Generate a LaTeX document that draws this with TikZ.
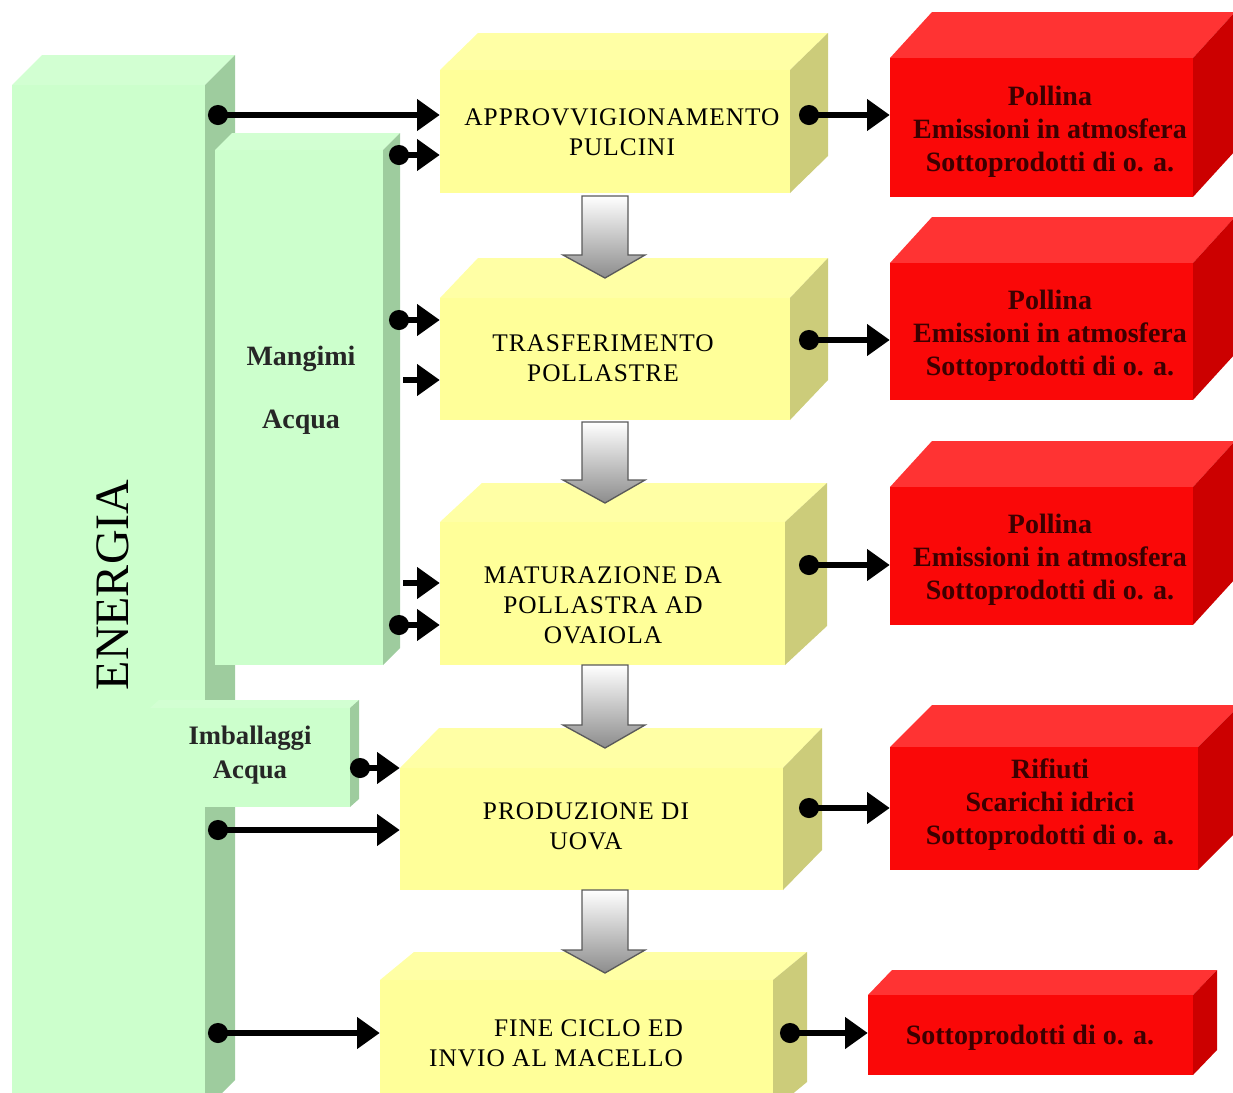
\documentclass[tikz,border=0pt]{standalone}
\usepackage{fontspec}
\setmainfont{Liberation Serif}
\newfontfamily\capsfont[LetterSpace=4]{Liberation Serif}
\usetikzlibrary{arrows.meta,calc}
\definecolor{gfront}{RGB}{204,255,204}
\definecolor{gtop}{RGB}{210,255,210}
\definecolor{gside}{RGB}{158,204,158}
\definecolor{yfront}{RGB}{255,255,153}
\definecolor{ytop}{RGB}{255,255,165}
\definecolor{yside}{RGB}{204,204,122}
\definecolor{rfront}{RGB}{250,8,8}
\definecolor{rtop}{RGB}{255,51,51}
\definecolor{rside}{RGB}{204,0,0}
\definecolor{rtext}{RGB}{60,0,0}
\definecolor{arrowedge}{RGB}{90,90,90}

% #1 name, #2 x1, #3 y1, #4 x2, #5 y2 (front face), #6 dx, #7 dy, #8 colour prefix
\newcommand\mycube[8]{%
  \fill[#8top] (#2,#3) -- ({#2+#6},{#3-#7}) -- ({#4+#6},{#3-#7}) -- (#4,#3) -- cycle;
  \fill[#8side] (#4,#3) -- ({#4+#6},{#3-#7}) -- ({#4+#6},{#5-#7}) -- (#4,#5) -- cycle;
  \node[fill=#8front, inner sep=0pt, minimum width={(#4-#2)*0.75pt},
        minimum height={(#5-#3)*0.75pt}] (#1) at ({(#2+#4)/2},{(#3+#5)/2}) {};
}
% fat grey arrow: #1 top y, #2 tip y
\newcommand\fatarrow[2]{%
  \shade[fat] (582,#1) -- (628,#1) -- (628,{#2-23}) -- (645,{#2-23}) -- (605,#2)
     -- (563,{#2-23}) -- (582,{#2-23}) -- cycle;
}

\begin{document}
\begin{tikzpicture}[x=0.75pt,y=-0.75pt,
  ytxt/.style={font=\capsfont\fontsize{19}{22.5}\selectfont, align=center, text=black},
  rtxt/.style={font=\bfseries\fontsize{21}{24.75}\selectfont, align=center, text=rtext},
  gtxt/.style={font=\bfseries\fontsize{21}{25.5}\selectfont, align=center, text=black!85},
  conn/.style={line width=4pt, {Circle[length=15pt]}-{Triangle[length=17pt,width=23pt]}},
  pconn/.style={line width=4pt, -{Triangle[length=17pt,width=23pt]}},
  fat/.style={top color=white, bottom color=gray!90, draw=arrowedge, line width=1pt}]
\useasboundingbox (0,0) rectangle (1233,1093);
\clip (0,0) rectangle (1233,1093);

% green blocks
\mycube{energia}{12}{85}{205}{1110}{30}{30}{g}
\mycube{mangimi}{215}{150}{383}{665}{17}{17}{g}
\mycube{imball}{150}{708}{350}{807}{9}{8}{g}
\node[font=\fontsize{36}{40}\selectfont, rotate=90] (tenergia) at (113,585) {ENERGIA};
\node[gtxt] (tmangimi) at (301,390) {Mangimi\\[22pt]Acqua};
\node[gtxt, font=\bfseries\fontsize{20}{25.5}\selectfont] (timball) at (250,755) {Imballaggi\\Acqua};

% yellow blocks
\mycube{y1}{440}{70}{790}{193}{38}{37}{y}
\mycube{y2}{440}{298}{790}{420}{38}{40}{y}
\mycube{y3}{440}{522}{785}{665}{42}{39}{y}
\mycube{y4}{400}{768}{783}{890}{39}{40}{y}
\mycube{y5}{380}{980}{773}{1110}{34}{28}{y}
\node[ytxt] (ty1) at (622,132) {APPROVVIGIONAMENTO\\PULCINI};
\node[ytxt] (ty2) at (603,358) {TRASFERIMENTO\\POLLASTRE};
\node[ytxt] (ty3) at (603,605) {MATURAZIONE DA\\POLLASTRA AD\\OVAIOLA};
\node[ytxt] (ty4) at (586,826) {PRODUZIONE DI\\UOVA};
\node[ytxt, align=right] (ty5) at (556,1043) {FINE CICLO ED\\INVIO AL MACELLO};

% red blocks
\mycube{r1}{890}{58}{1193}{197}{42}{46}{r}
\mycube{r2}{890}{263}{1193}{400}{42}{46}{r}
\mycube{r3}{890}{487}{1193}{625}{42}{46}{r}
\mycube{r4}{890}{747}{1198}{870}{42}{42}{r}
\mycube{r5}{868}{995}{1193}{1075}{24}{25}{r}
\node[rtxt] (tr1) at (1050,132) {Pollina\\Emissioni in atmosfera\\Sottoprodotti di o. a.};
\node[rtxt] (tr2) at (1050,336) {Pollina\\Emissioni in atmosfera\\Sottoprodotti di o. a.};
\node[rtxt] (tr3) at (1050,560) {Pollina\\Emissioni in atmosfera\\Sottoprodotti di o. a.};
\node[rtxt] (tr4) at (1050,805) {Rifiuti\\Scarichi idrici\\Sottoprodotti di o. a.};
\node[rtxt] (tr5) at (1030,1038) {Sottoprodotti di o. a.};

% fat grey arrows between process steps
\fatarrow{196}{278}
\fatarrow{422}{503}
\fatarrow{665}{748}
\fatarrow{890}{973}

% input connectors
\coordinate (e1) at (208,115);
\coordinate (m1) at (389,155);
\coordinate (m2) at (389,320);
\coordinate (m3) at (403,380);
\coordinate (m4) at (403,583);
\coordinate (m5) at (389,625);
\coordinate (i1) at (350,768);
\coordinate (e4) at (208,830);
\coordinate (e5) at (208,1033);
\draw[conn] (e1) -- (y1.west |- e1);
\draw[conn] (m1) -- (y1.west |- m1);
\draw[conn] (m2) -- (y2.west |- m2);
\draw[pconn] (m3) -- (y2.west |- m3);
\draw[pconn] (m4) -- (y3.west |- m4);
\draw[conn] (m5) -- (y3.west |- m5);
\draw[conn] (i1) -- (y4.west |- i1);
\draw[conn] (e4) -- (y4.west |- e4);
\draw[conn] (e5) -- (y5.west |- e5);

% output connectors
\coordinate (o1) at (799,115);
\coordinate (o2) at (799,340);
\coordinate (o3) at (799,565);
\coordinate (o4) at (799,808);
\coordinate (o5) at (780,1033);
\draw[conn] (o1) -- (r1.west |- o1);
\draw[conn] (o2) -- (r2.west |- o2);
\draw[conn] (o3) -- (r3.west |- o3);
\draw[conn] (o4) -- (r4.west |- o4);
\draw[conn] (o5) -- (r5.west |- o5);
\end{tikzpicture}
\end{document}
